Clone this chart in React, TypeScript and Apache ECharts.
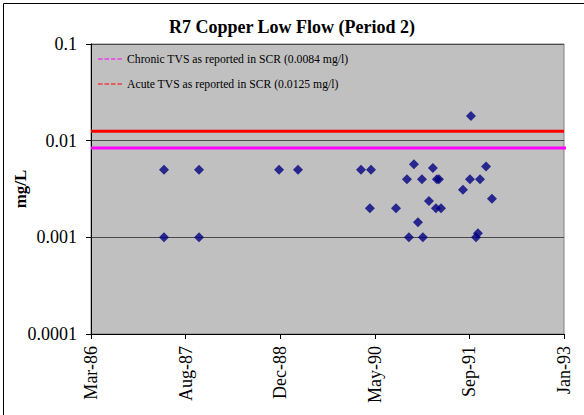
import React, { useEffect, useRef } from "react";
import * as echarts from "echarts";

// Sample dates and copper concentrations (mg/L)
const sampleDates: string[] = [
  "1987-04-19", "1987-04-19", "1987-10-21", "1987-10-21", "1988-12-17", "1989-03-27",
  "1990-02-23", "1990-04-17", "1990-04-11", "1990-08-27", "1990-10-24", "1990-11-30",
  "1990-11-03", "1990-12-21", "1991-01-11", "1991-01-16", "1991-02-17", "1991-03-10",
  "1991-03-31", "1991-04-11", "1991-03-26", "1991-04-22", "1991-08-16", "1991-09-22",
  "1991-09-27", "1991-10-24", "1991-11-03", "1991-11-14", "1991-12-16", "1992-01-16",
];
const copperValues: number[] = [
  0.005, 0.001, 0.005, 0.001, 0.005, 0.005,
  0.005, 0.005, 0.002, 0.002, 0.004, 0.0057,
  0.001, 0.00143, 0.004, 0.001, 0.00238, 0.0052,
  0.004, 0.004, 0.002, 0.002, 0.0031, 0.004,
  0.018, 0.001, 0.0011, 0.004, 0.0054, 0.0025,
];

const chronicLabel = "Chronic TVS as reported in SCR (0.0084 mg/l)";
const acuteLabel = "Acute TVS as reported in SCR (0.0125 mg/l)";
const chronicValue = 0.0084;
const acuteValue = 0.0125;

// x axis in Excel date serials
const xMin = 31500;
const xMax = 34000;
const xInterval = 500;
const chronicEnd = 34032;

const MONTHS = ["Jan", "Feb", "Mar", "Apr", "May", "Jun", "Jul", "Aug", "Sep", "Oct", "Nov", "Dec"];
const toSerial = (s: string) => Date.parse(s) / 86400000 + 25569;
const fmtSerial = (v: number) => {
  const d = new Date((v - 25569) * 86400000);
  return MONTHS[d.getUTCMonth()] + "-" + String(d.getUTCFullYear()).slice(2);
};

const FONT = "'Liberation Serif', 'Times New Roman', serif";

export default function App() {
  const ref = useRef<HTMLDivElement>(null);
  useEffect(() => {
    if (!ref.current) return;
    const chart = echarts.init(ref.current, undefined, { renderer: "svg" });
    const points = sampleDates.map((d, i) => [toSerial(d), copperValues[i]]);
    const dash = "path://M0,0h5v1h-5zM7,0h5v1h-5zM14,0h5v1h-5zM21,0h5v1h-5z";
    chart.setOption({
      animation: false,
      backgroundColor: "#ffffff",
      textStyle: { fontFamily: FONT },
      title: {
        text: "R7 Copper Low Flow (Period 2)",
        left: "center",
        top: 13,
        textStyle: { fontFamily: FONT, fontSize: 18, fontWeight: "bold", color: "#000" },
      },
      graphic: [
        {
          type: "rect",
          left: 1,
          top: 1,
          shape: { width: 581, height: 412 },
          style: { fill: "none", stroke: "#000", lineWidth: 1 },
          silent: true,
        },
      ],
      legend: {
        orient: "vertical",
        left: 93,
        top: 48,
        itemGap: 13,
        itemWidth: 24,
        itemHeight: 1.5,
        data: [
          { name: chronicLabel, icon: dash },
          { name: acuteLabel, icon: dash },
        ],
        textStyle: { fontFamily: FONT, fontSize: 11.7, color: "#000" },
      },
      grid: {
        left: 91,
        right: 20,
        top: 44,
        bottom: 81,
        containLabel: false,
        outerBoundsMode: "none",
        show: true,
        backgroundColor: "#c0c0c0",
        borderColor: "#808080",
        borderWidth: 1,
      },
      xAxis: {
        type: "value",
        min: xMin,
        max: xMax,
        interval: xInterval,
        axisLine: { show: true, onZero: false, lineStyle: { color: "#000", width: 1 } },
        axisTick: { show: true, length: 5, lineStyle: { color: "#000" } },
        splitLine: { show: false },
        axisLabel: {
          rotate: 90,
          fontFamily: FONT,
          fontSize: 18,
          color: "#000",
          margin: 12,
          formatter: (v: number) => fmtSerial(v),
        },
      },
      yAxis: {
        type: "log",
        logBase: 10,
        min: 0.0001,
        max: 0.1,
        name: "mg/L",
        nameLocation: "middle",
        nameGap: 62,
        nameMoveOverlap: false,
        nameTextStyle: { fontFamily: FONT, fontSize: 17, fontWeight: "bold", color: "#000" },
        axisLine: { show: true, lineStyle: { color: "#000", width: 1 } },
        axisTick: { show: true, length: 5, lineStyle: { color: "#000" } },
        minorTick: { show: false },
        splitLine: { show: true, lineStyle: { color: "#4a4a4a", width: 1 } },
        axisLabel: {
          fontFamily: FONT,
          fontSize: 18,
          color: "#000",
          margin: 14,
          formatter: (v: number) => String(Number(v.toPrecision(1))),
        },
      },
      series: [
        {
          name: chronicLabel,
          type: "line",
          data: [[xMin, chronicValue], [chronicEnd, chronicValue]],
          symbol: "none",
          clip: false,
          lineStyle: { color: "#ff00ff", width: 3 },
          itemStyle: { color: "#ff00ff" },
          silent: true,
        },
        {
          name: acuteLabel,
          type: "line",
          data: [[xMin, acuteValue], [xMax, acuteValue]],
          symbol: "none",
          lineStyle: { color: "#ff0000", width: 3 },
          itemStyle: { color: "#ff0000" },
          silent: true,
        },
        {
          name: "Copper",
          type: "scatter",
          data: points,
          symbol: "diamond",
          symbolSize: 10,
          itemStyle: { color: "#000080" },
        },
      ],
    });
    return () => chart.dispose();
  }, []);
  return (
    <div
      ref={ref}
      style={{ position: "fixed", left: 0, top: 0, width: 584, height: 415 }}
    />
  );
}
